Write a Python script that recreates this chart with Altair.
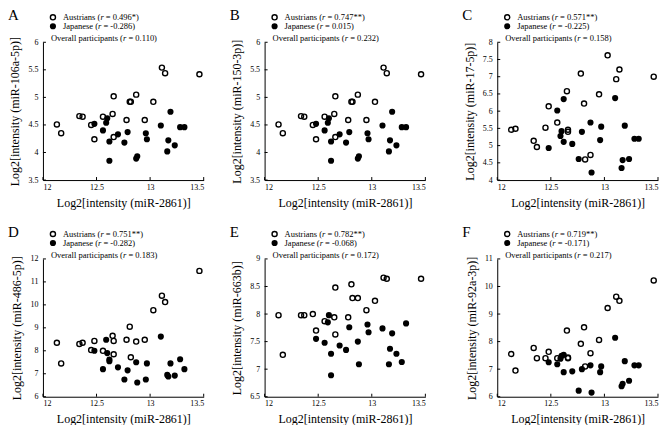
import altair as alt
import pandas as pd

FONT = "Liberation Serif"

# Shared x values: Log2[intensity (miR-2861)]
AUS_X = [12.13, 12.17, 12.34, 12.37, 12.45, 12.48, 12.56, 12.65, 12.66, 12.66,
         12.78, 12.81, 12.82, 12.87, 12.95, 13.03, 13.11, 13.14, 13.46]
JAP_X = [12.48, 12.56, 12.59, 12.60, 12.62, 12.62, 12.70, 12.76, 12.79, 12.87,
         12.88, 12.96, 12.97, 13.10, 13.16, 13.17, 13.19, 13.23, 13.28, 13.32]

# Panel A / B (identical in the figure)
A_AUS = [4.51, 4.35, 4.66, 4.65, 4.50, 4.24, 4.65, 4.70, 5.02, 4.28,
         4.59, 4.92, 4.92, 5.05, 4.59, 4.92, 5.54, 5.44, 5.42]
A_JAP = [4.52, 4.40, 4.54, 4.62, 4.20, 3.85, 4.33, 4.18, 4.37, 3.89,
         3.93, 4.35, 4.24, 4.49, 4.02, 4.22, 4.74, 4.13, 4.46, 4.46]
B_AUS = list(A_AUS)
B_JAP = list(A_JAP)
C_AUS = [5.46, 5.49, 5.14, 4.96, 5.52, 6.14, 5.67, 6.58, 5.46, 5.40,
         7.09, 6.22, 4.60, 4.73, 6.49, 7.62, 6.93, 7.21, 7.00]
C_JAP = [4.93, 6.02, 5.28, 5.42, 6.35, 5.11, 5.05, 4.61, 5.40, 5.67,
         4.22, 5.16, 5.55, 6.38, 4.35, 4.58, 5.58, 4.61, 5.20, 5.20]
D_AUS = [8.35, 7.45, 8.30, 8.35, 8.03, 8.43, 8.00, 8.65, 8.43, 7.85,
         8.48, 9.05, 7.72, 8.40, 8.48, 9.77, 10.40, 10.12, 11.48]
D_JAP = [8.00, 7.20, 8.48, 7.90, 7.62, 7.55, 7.28, 6.75, 7.15, 7.50,
         6.62, 6.75, 7.45, 8.62, 6.95, 6.88, 7.45, 6.92, 7.63, 7.20]
E_AUS = [7.98, 7.26, 7.98, 7.98, 8.00, 7.70, 7.87, 7.94, 8.48, 7.63,
         7.94, 8.54, 8.29, 8.29, 8.07, 8.24, 8.66, 8.64, 8.64]
E_JAP = [7.55, 7.48, 7.85, 7.98, 7.28, 6.89, 7.43, 7.35, 7.76, 7.50,
         7.09, 7.81, 7.67, 7.74, 7.09, 7.37, 7.65, 7.28, 7.13, 7.83]
F_AUS = [7.55, 6.95, 7.77, 7.40, 7.40, 7.63, 7.40, 8.40, 7.42, 7.40,
         7.92, 8.52, 7.10, 7.58, 8.06, 9.22, 9.63, 9.48, 10.22]
F_JAP = [7.25, 7.18, 7.38, 7.48, 7.52, 6.89, 6.92, 6.22, 7.00, 7.14,
         6.15, 6.89, 7.10, 8.14, 6.38, 6.47, 7.29, 6.58, 7.14, 7.14]

X_TICKS = [12, 12.5, 13, 13.5]
LETTERS = ["A", "B", "C", "D", "E", "F"]
Y_TITLES = ["Log2[intensity (miR-106a-5p)]", "Log2[intensity (miR-150-3p)]",
            "Log2[intensity (miR-17-5p)]", "Log2[intensity (miR-486-5p)]",
            "Log2[intensity (miR-663b)]", "Log2[intensity (miR-92a-3p)]"]
Y_TICKS = [
    [3.5, 4, 4.5, 5, 5.5, 6],
    [3.5, 4, 4.5, 5, 5.5, 6],
    [4, 4.5, 5, 5.5, 6, 6.5, 7, 7.5, 8],
    [6, 7, 8, 9, 10, 11, 12],
    [6.5, 7, 7.5, 8, 8.5, 9],
    [6, 7, 8, 9, 10, 11],
]
R_AUS = ["0.496*", "0.747**", "0.571**", "0.751**", "0.782**", "0.719**"]
R_JAP = ["-0.286", "0.015", "-0.225", "-0.282", "-0.068", "-0.171"]
R_ALL = ["0.110", "0.232", "0.158", "0.183", "0.172", "0.217"]
AUS_Y = [A_AUS, B_AUS, C_AUS, D_AUS, E_AUS, F_AUS]
JAP_Y = [A_JAP, B_JAP, C_JAP, D_JAP, E_JAP, F_JAP]

# Times metrics (per 1000 em) for placing the italic "r"
TW = {" ": 250, "(": 333, ")": 333, "*": 500, "=": 564, "-": 333, ".": 250,
      "A": 722, "J": 389, "O": 722, "a": 444, "c": 444, "e": 444, "i": 278,
      "l": 278, "n": 500, "p": 500, "r": 333, "s": 389, "t": 278, "u": 500, "v": 500}


def tw(s, size):
    return sum(TW.get(ch, 500) for ch in s) * size / 1000.0


W = 161
LEG = 8.5


def txt(s, x, y, size=LEG, align="left", style="normal", baseline="middle"):
    return alt.Chart(alt.Data(values=[{}])).mark_text(
        text=s, align=align, baseline=baseline, fontSize=size, font=FONT,
        fontStyle=style, color="black"
    ).encode(x=alt.value(x), y=alt.value(y))


def legend_line(prefix, rval, x0, y):
    w1 = tw(prefix, LEG)
    wr = 389 * LEG / 1000.0
    sp = 250 * LEG / 1000.0
    return [
        txt(prefix, x0, y),
        txt("r", x0 + w1, y, style="italic"),
        txt("= " + rval + ")", x0 + w1 + wr + sp, y),
    ]


def panel(i, H):
    yt = Y_TICKS[i]
    xscale = alt.Scale(domain=[12, 13.5], nice=False, zero=False)
    yscale = alt.Scale(domain=[yt[0], yt[-1]], nice=False, zero=False)
    xenc = alt.X("x:Q", scale=xscale,
                 axis=alt.Axis(values=X_TICKS, title="Log2[intensity (miR-2861)]", format="~g"))
    yenc = alt.Y("y:Q", scale=yscale,
                 axis=alt.Axis(values=yt, title=Y_TITLES[i], format="~g"))

    aus = pd.DataFrame({"x": AUS_X, "y": AUS_Y[i]})
    jap = pd.DataFrame({"x": JAP_X, "y": JAP_Y[i]})

    p_aus = alt.Chart(aus).mark_point(shape="circle", filled=False, size=26,
                                      strokeWidth=1.4, color="black", opacity=1
                                      ).encode(x=xenc, y=yenc)
    p_jap = alt.Chart(jap).mark_point(shape="circle", filled=True, size=38,
                                      color="black", opacity=1
                                      ).encode(x=xenc, y=yenc)
    xt = alt.Chart(pd.DataFrame({"x": X_TICKS})).mark_rule(color="black", strokeWidth=1).encode(
        x=xenc, y=alt.value(H), y2=alt.value(H - 3))
    ytk = alt.Chart(pd.DataFrame({"y": yt})).mark_rule(color="black", strokeWidth=1).encode(
        y=yenc, x=alt.value(0), x2=alt.value(3))

    sym_a = alt.Chart(alt.Data(values=[{}])).mark_point(
        shape="circle", filled=False, size=26, strokeWidth=1.4, color="black", opacity=1
    ).encode(x=alt.value(10), y=alt.value(-25))
    sym_j = alt.Chart(alt.Data(values=[{}])).mark_point(
        shape="circle", filled=True, size=38, color="black", opacity=1
    ).encode(x=alt.value(10), y=alt.value(-16))

    layers = [p_aus, p_jap, xt, ytk, sym_a, sym_j]
    layers += legend_line("Austrians (", R_AUS[i], 20, -25)
    layers += legend_line("Japanese (", R_JAP[i], 20, -16)
    layers += legend_line("Overall participants (", R_ALL[i], 8, -4)
    layers.append(txt(LETTERS[i], -35, -34, size=15, baseline="top"))
    return alt.layer(*layers).properties(width=W, height=H)


H1 = 138
H2 = 138
colA = alt.vconcat(panel(0, H1), panel(3, H2), spacing=17)
colB = alt.vconcat(panel(1, H1), panel(4, H2), spacing=17)
colC = alt.vconcat(panel(2, H1), panel(5, H2), spacing=17)

chart = alt.hconcat(alt.hconcat(colA, colB, spacing=24), colC, spacing=35).properties(
    padding=0
).configure_view(stroke=None).configure_axis(
    labelFont=FONT, titleFont=FONT, labelFontSize=8, titleFontSize=12,
    titleFontWeight="normal", labelColor="black", titleColor="black",
    domainColor="black", domainWidth=1, ticks=False, grid=False,
    labelPadding=5, titlePadding=6
).configure_axisX(labelPadding=3, titlePadding=6)

chart.save("out.html", embed_options={"renderer": "svg", "actions": False})
